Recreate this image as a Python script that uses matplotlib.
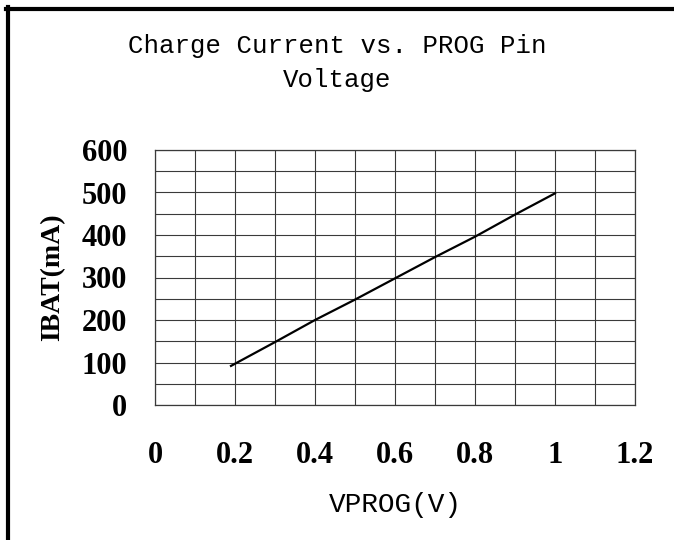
import numpy as np
import matplotlib
matplotlib.use("Agg")
import matplotlib.pyplot as plt
from matplotlib.lines import Line2D

# values
vprog = [0.19, 0.3, 0.4, 0.5, 0.6, 0.7, 0.8, 0.9, 1.0]
ibat = [92, 148, 200, 248, 298, 348, 396, 448, 498]

x_ticks = [0, 0.2, 0.4, 0.6, 0.8, 1, 1.2]
x_labels = ["0", "0.2", "0.4", "0.6", "0.8", "1", "1.2"]
y_ticks = [0, 100, 200, 300, 400, 500, 600]
y_labels = ["0", "100", "200", "300", "400", "500", "600"]

title_txt = "Charge Current vs. PROG Pin\nVoltage"
x_title = "VPROG(V)"
y_title = "IBAT(mA)"

mono = "Liberation Mono"
serif = "Liberation Serif"

fig = plt.figure(figsize=(6.74, 5.4), dpi=100)
ax = fig.add_axes([155 / 674, 135 / 540, 480 / 674, 255 / 540])

ax.plot(vprog, ibat, color="black", linewidth=1.6)

ax.set_xlim(0, 1.2)
ax.set_ylim(0, 600)

# grid every 0.1 V and every 50 mA
ax.set_xticks(np.arange(0, 1.21, 0.1), minor=True)
ax.set_yticks(np.arange(0, 601, 50), minor=True)
ax.grid(True, which="both", color="#3a3a3a", linewidth=0.8)
ax.set_axisbelow(True)

ax.set_xticks(x_ticks)
ax.set_xticklabels(x_labels, fontfamily=serif, fontweight="bold", fontsize=22)
ax.set_yticks(y_ticks)
ax.set_yticklabels(y_labels, fontfamily=serif, fontweight="bold", fontsize=22)
ax.tick_params(which="both", length=0)
ax.tick_params(axis="x", pad=26)
ax.tick_params(axis="y", pad=20)

for s in ax.spines.values():
    s.set_color("#3a3a3a")
    s.set_linewidth(0.9)

ax.set_xlabel(x_title, fontfamily=mono, fontsize=20, labelpad=16)
ax.set_ylabel(y_title, fontfamily=serif, fontweight="bold", fontsize=20, labelpad=12)

fig.text(0.5, 1 - 63 / 540, title_txt, ha="center", va="center",
         fontfamily=mono, fontsize=18.5, linespacing=1.55)

# frame on the left and top of the picture
fig.add_artist(Line2D([7.5 / 674, 7.5 / 674], [0, 1 - 7 / 540], color="black",
                      linewidth=3, transform=fig.transFigure))
fig.add_artist(Line2D([6 / 674, 1], [1 - 9 / 540, 1 - 9 / 540], color="black",
                      linewidth=3, transform=fig.transFigure))

fig.savefig("out.png", dpi=100)
